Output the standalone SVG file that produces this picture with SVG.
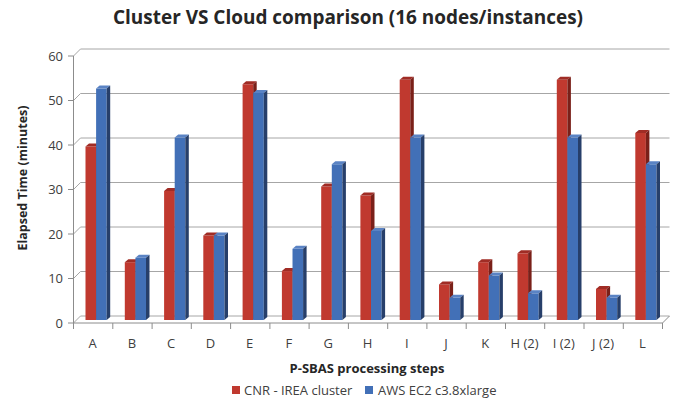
<svg xmlns="http://www.w3.org/2000/svg" width="687" height="405" viewBox="0 0 687 405">
  <style>
    .grid { stroke: #a6a6a6; stroke-width: 1; fill: none; }
    .axis { stroke: #8c8c8c; stroke-width: 1; fill: none; }
    .lbl { font-family: "Open Sans", "Liberation Sans", sans-serif; font-size: 13px; fill: #404040; }
    .ttl { font-family: "Open Sans", "Liberation Sans", sans-serif; font-weight: bold; fill: #262626; }
    .r .f { fill: #c0392f; }
    .r .t { fill: #a02c25; }
    .r .s { fill: #7a2019; }
    .b .f { fill: #4270b7; }
    .b .t { fill: #5a83c4; }
    .b .s { fill: #273f6a; }
  </style>

  <rect width="687" height="405" fill="#ffffff"/>

  <!-- title -->
  <text class="ttl" x="348" y="24" font-size="20" text-anchor="middle" textLength="470" lengthAdjust="spacingAndGlyphs">Cluster VS Cloud comparison (16 nodes/instances)</text>

  <!-- walls, gridlines and axes -->
  <g id="axes">
    <path class="grid" d="M73.5,323 L80.5,316 H669.5 M73.5,278.5 L80.5,271.5 H669.5 M73.5,234 L80.5,227 H669.5 M73.5,189.5 L80.5,182.5 H669.5 M73.5,145 L80.5,138 H669.5 M73.5,100.5 L80.5,93.5 H669.5 M73.5,56 L80.5,49 H669.5"/>
    <path class="axis" d="M73.5,56 V323 H662.5 L669.5,316"/>
    <path class="axis" d="M68,323 H73.5 M68,278.5 H73.5 M68,234 H73.5 M68,189.5 H73.5 M68,145 H73.5 M68,100.5 H73.5 M68,56 H73.5"/>
    <path class="axis" d="M73.5,323 V329 M112.8,323 V329 M152.1,323 V329 M191.3,323 V329 M230.6,323 V329 M269.9,323 V329 M309.1,323 V329 M348.4,323 V329 M387.7,323 V329 M426.9,323 V329 M466.2,323 V329 M505.5,323 V329 M544.7,323 V329 M584,323 V329 M623.3,323 V329 M662.5,323 V329"/>
    <g class="lbl" text-anchor="end">
      <text x="63" y="327.5">0</text>
      <text x="63" y="283">10</text>
      <text x="63" y="238.5">20</text>
      <text x="63" y="194">30</text>
      <text x="63" y="149.5">40</text>
      <text x="63" y="105">50</text>
      <text x="63" y="60.5">60</text>
    </g>
    <text class="ttl" font-size="12.5" transform="translate(27,178) rotate(-90)" text-anchor="middle">Elapsed Time (minutes)</text>
  </g>

  <!-- columns: red = CNR - IREA cluster, blue = AWS EC2 c3.8xlarge -->
  <g id="cat-A">
    <g class="r" transform="translate(85.5,0)"><path class="f" d="M0,146.5 h10.6 V320 h-10.6Z"/><path class="t" d="M0,146.5 l3.5,-3 h10.6 l-3.5,3Z"/><path class="s" d="M10.6,146.5 l3.5,-3 V317 l-3.5,3Z"/></g>
    <g class="b" transform="translate(96.1,0)"><path class="f" d="M0,88.6 h10.6 V320 h-10.6Z"/><path class="t" d="M0,88.6 l3.5,-3 h10.6 l-3.5,3Z"/><path class="s" d="M10.6,88.6 l3.5,-3 V317 l-3.5,3Z"/></g>
  </g>
  <g id="cat-B">
    <g class="r" transform="translate(124.8,0)"><path class="f" d="M0,262.2 h10.6 V320 h-10.6Z"/><path class="t" d="M0,262.2 l3.5,-3 h10.6 l-3.5,3Z"/><path class="s" d="M10.6,262.2 l3.5,-3 V317 l-3.5,3Z"/></g>
    <g class="b" transform="translate(135.4,0)"><path class="f" d="M0,257.7 h10.6 V320 h-10.6Z"/><path class="t" d="M0,257.7 l3.5,-3 h10.6 l-3.5,3Z"/><path class="s" d="M10.6,257.7 l3.5,-3 V317 l-3.5,3Z"/></g>
  </g>
  <g id="cat-C">
    <g class="r" transform="translate(164.1,0)"><path class="f" d="M0,191 h10.6 V320 h-10.6Z"/><path class="t" d="M0,191 l3.5,-3 h10.6 l-3.5,3Z"/><path class="s" d="M10.6,191 l3.5,-3 V317 l-3.5,3Z"/></g>
    <g class="b" transform="translate(174.7,0)"><path class="f" d="M0,137.6 h10.6 V320 h-10.6Z"/><path class="t" d="M0,137.6 l3.5,-3 h10.6 l-3.5,3Z"/><path class="s" d="M10.6,137.6 l3.5,-3 V317 l-3.5,3Z"/></g>
  </g>
  <g id="cat-D">
    <g class="r" transform="translate(203.3,0)"><path class="f" d="M0,235.5 h10.6 V320 h-10.6Z"/><path class="t" d="M0,235.5 l3.5,-3 h10.6 l-3.5,3Z"/><path class="s" d="M10.6,235.5 l3.5,-3 V317 l-3.5,3Z"/></g>
    <g class="b" transform="translate(213.9,0)"><path class="f" d="M0,235.5 h10.6 V320 h-10.6Z"/><path class="t" d="M0,235.5 l3.5,-3 h10.6 l-3.5,3Z"/><path class="s" d="M10.6,235.5 l3.5,-3 V317 l-3.5,3Z"/></g>
  </g>
  <g id="cat-E">
    <g class="r" transform="translate(242.6,0)"><path class="f" d="M0,84.2 h10.6 V320 h-10.6Z"/><path class="t" d="M0,84.2 l3.5,-3 h10.6 l-3.5,3Z"/><path class="s" d="M10.6,84.2 l3.5,-3 V317 l-3.5,3Z"/></g>
    <g class="b" transform="translate(253.2,0)"><path class="f" d="M0,93.1 h10.6 V320 h-10.6Z"/><path class="t" d="M0,93.1 l3.5,-3 h10.6 l-3.5,3Z"/><path class="s" d="M10.6,93.1 l3.5,-3 V317 l-3.5,3Z"/></g>
  </g>
  <g id="cat-F">
    <g class="r" transform="translate(281.9,0)"><path class="f" d="M0,271.1 h10.6 V320 h-10.6Z"/><path class="t" d="M0,271.1 l3.5,-3 h10.6 l-3.5,3Z"/><path class="s" d="M10.6,271.1 l3.5,-3 V317 l-3.5,3Z"/></g>
    <g class="b" transform="translate(292.5,0)"><path class="f" d="M0,248.8 h10.6 V320 h-10.6Z"/><path class="t" d="M0,248.8 l3.5,-3 h10.6 l-3.5,3Z"/><path class="s" d="M10.6,248.8 l3.5,-3 V317 l-3.5,3Z"/></g>
  </g>
  <g id="cat-G">
    <g class="r" transform="translate(321.2,0)"><path class="f" d="M0,186.5 h10.6 V320 h-10.6Z"/><path class="t" d="M0,186.5 l3.5,-3 h10.6 l-3.5,3Z"/><path class="s" d="M10.6,186.5 l3.5,-3 V317 l-3.5,3Z"/></g>
    <g class="b" transform="translate(331.8,0)"><path class="f" d="M0,164.3 h10.6 V320 h-10.6Z"/><path class="t" d="M0,164.3 l3.5,-3 h10.6 l-3.5,3Z"/><path class="s" d="M10.6,164.3 l3.5,-3 V317 l-3.5,3Z"/></g>
  </g>
  <g id="cat-H">
    <g class="r" transform="translate(360.4,0)"><path class="f" d="M0,195.4 h10.6 V320 h-10.6Z"/><path class="t" d="M0,195.4 l3.5,-3 h10.6 l-3.5,3Z"/><path class="s" d="M10.6,195.4 l3.5,-3 V317 l-3.5,3Z"/></g>
    <g class="b" transform="translate(371,0)"><path class="f" d="M0,231 h10.6 V320 h-10.6Z"/><path class="t" d="M0,231 l3.5,-3 h10.6 l-3.5,3Z"/><path class="s" d="M10.6,231 l3.5,-3 V317 l-3.5,3Z"/></g>
  </g>
  <g id="cat-I">
    <g class="r" transform="translate(399.7,0)"><path class="f" d="M0,79.7 h10.6 V320 h-10.6Z"/><path class="t" d="M0,79.7 l3.5,-3 h10.6 l-3.5,3Z"/><path class="s" d="M10.6,79.7 l3.5,-3 V317 l-3.5,3Z"/></g>
    <g class="b" transform="translate(410.3,0)"><path class="f" d="M0,137.6 h10.6 V320 h-10.6Z"/><path class="t" d="M0,137.6 l3.5,-3 h10.6 l-3.5,3Z"/><path class="s" d="M10.6,137.6 l3.5,-3 V317 l-3.5,3Z"/></g>
  </g>
  <g id="cat-J">
    <g class="r" transform="translate(439,0)"><path class="f" d="M0,284.4 h10.6 V320 h-10.6Z"/><path class="t" d="M0,284.4 l3.5,-3 h10.6 l-3.5,3Z"/><path class="s" d="M10.6,284.4 l3.5,-3 V317 l-3.5,3Z"/></g>
    <g class="b" transform="translate(449.6,0)"><path class="f" d="M0,297.8 h10.6 V320 h-10.6Z"/><path class="t" d="M0,297.8 l3.5,-3 h10.6 l-3.5,3Z"/><path class="s" d="M10.6,297.8 l3.5,-3 V317 l-3.5,3Z"/></g>
  </g>
  <g id="cat-K">
    <g class="r" transform="translate(478.2,0)"><path class="f" d="M0,262.2 h10.6 V320 h-10.6Z"/><path class="t" d="M0,262.2 l3.5,-3 h10.6 l-3.5,3Z"/><path class="s" d="M10.6,262.2 l3.5,-3 V317 l-3.5,3Z"/></g>
    <g class="b" transform="translate(488.8,0)"><path class="f" d="M0,275.5 h10.6 V320 h-10.6Z"/><path class="t" d="M0,275.5 l3.5,-3 h10.6 l-3.5,3Z"/><path class="s" d="M10.6,275.5 l3.5,-3 V317 l-3.5,3Z"/></g>
  </g>
  <g id="cat-H2">
    <g class="r" transform="translate(517.5,0)"><path class="f" d="M0,253.3 h10.6 V320 h-10.6Z"/><path class="t" d="M0,253.3 l3.5,-3 h10.6 l-3.5,3Z"/><path class="s" d="M10.6,253.3 l3.5,-3 V317 l-3.5,3Z"/></g>
    <g class="b" transform="translate(528.1,0)"><path class="f" d="M0,293.3 h10.6 V320 h-10.6Z"/><path class="t" d="M0,293.3 l3.5,-3 h10.6 l-3.5,3Z"/><path class="s" d="M10.6,293.3 l3.5,-3 V317 l-3.5,3Z"/></g>
  </g>
  <g id="cat-I2">
    <g class="r" transform="translate(556.8,0)"><path class="f" d="M0,79.7 h10.6 V320 h-10.6Z"/><path class="t" d="M0,79.7 l3.5,-3 h10.6 l-3.5,3Z"/><path class="s" d="M10.6,79.7 l3.5,-3 V317 l-3.5,3Z"/></g>
    <g class="b" transform="translate(567.4,0)"><path class="f" d="M0,137.6 h10.6 V320 h-10.6Z"/><path class="t" d="M0,137.6 l3.5,-3 h10.6 l-3.5,3Z"/><path class="s" d="M10.6,137.6 l3.5,-3 V317 l-3.5,3Z"/></g>
  </g>
  <g id="cat-J2">
    <g class="r" transform="translate(596,0)"><path class="f" d="M0,288.9 h10.6 V320 h-10.6Z"/><path class="t" d="M0,288.9 l3.5,-3 h10.6 l-3.5,3Z"/><path class="s" d="M10.6,288.9 l3.5,-3 V317 l-3.5,3Z"/></g>
    <g class="b" transform="translate(606.6,0)"><path class="f" d="M0,297.8 h10.6 V320 h-10.6Z"/><path class="t" d="M0,297.8 l3.5,-3 h10.6 l-3.5,3Z"/><path class="s" d="M10.6,297.8 l3.5,-3 V317 l-3.5,3Z"/></g>
  </g>
  <g id="cat-L">
    <g class="r" transform="translate(635.3,0)"><path class="f" d="M0,133.1 h10.6 V320 h-10.6Z"/><path class="t" d="M0,133.1 l3.5,-3 h10.6 l-3.5,3Z"/><path class="s" d="M10.6,133.1 l3.5,-3 V317 l-3.5,3Z"/></g>
    <g class="b" transform="translate(645.9,0)"><path class="f" d="M0,164.3 h10.6 V320 h-10.6Z"/><path class="t" d="M0,164.3 l3.5,-3 h10.6 l-3.5,3Z"/><path class="s" d="M10.6,164.3 l3.5,-3 V317 l-3.5,3Z"/></g>
  </g>

  <!-- category labels -->
  <g id="x-labels" class="lbl" text-anchor="middle">
    <text x="92.6" y="348">A</text>
    <text x="131.9" y="348">B</text>
    <text x="171.1" y="348">C</text>
    <text x="210.4" y="348">D</text>
    <text x="249.7" y="348">E</text>
    <text x="288.9" y="348">F</text>
    <text x="328.2" y="348">G</text>
    <text x="367.5" y="348">H</text>
    <text x="406.8" y="348">I</text>
    <text x="446" y="348">J</text>
    <text x="485.3" y="348">K</text>
    <text x="524.6" y="348">H (2)</text>
    <text x="563.8" y="348">I (2)</text>
    <text x="603.1" y="348">J (2)</text>
    <text x="642.4" y="348">L</text>
  </g>
  <text class="ttl" x="367" y="373" font-size="13" text-anchor="middle">P-SBAS processing steps</text>

  <!-- legend -->
  <g id="legend" class="lbl" font-size="12.5">
    <rect x="232" y="386" width="8" height="8" fill="#c0392f"/>
    <text x="244" y="395">CNR - IREA cluster</text>
    <rect x="365" y="386" width="8" height="8" fill="#4270b7"/>
    <text x="378" y="395">AWS EC2 c3.8xlarge</text>
  </g>
</svg>
